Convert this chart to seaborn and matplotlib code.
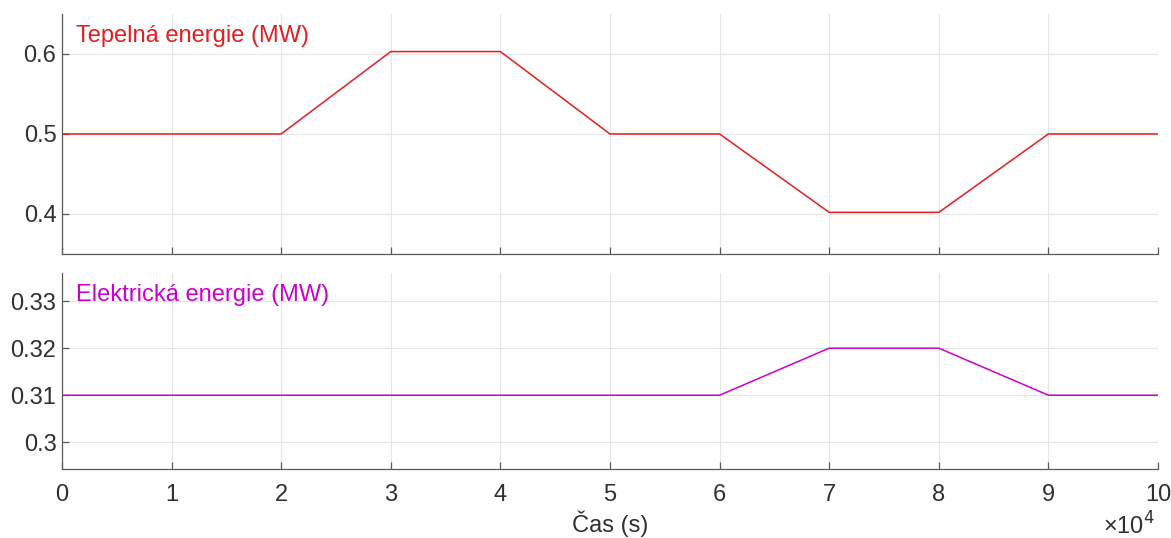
import pandas as pd
import matplotlib.pyplot as plt
import seaborn as sns
from matplotlib.ticker import FuncFormatter

cas = [0, 10000, 20000, 30000, 40000, 50000, 60000, 70000, 80000, 90000, 100000]
tepelna = [0.5, 0.5, 0.5, 0.603, 0.603, 0.5, 0.5, 0.402, 0.402, 0.5, 0.5]
elektricka = [0.31, 0.31, 0.31, 0.31, 0.31, 0.31, 0.31, 0.32, 0.32, 0.31, 0.31]

df = pd.DataFrame({'cas': cas, 'tepelna': tepelna, 'elektricka': elektricka})

sns.set_theme(style="white")
plt.rcParams['font.family'] = ['Liberation Sans', 'DejaVu Sans']
plt.rcParams.update({'font.size': 17})

fig = plt.figure(figsize=(11.71, 5.38), dpi=100)
ax1 = fig.add_axes([0.0529, 0.528, 0.936, 0.446])
ax2 = fig.add_axes([0.0529, 0.128, 0.936, 0.364])

red = '#e41e20'
mag = '#cc00cc'
txt = '#303030'

sns.lineplot(data=df, x='cas', y='tepelna', ax=ax1, color=red, linewidth=1.1)
sns.lineplot(data=df, x='cas', y='elektricka', ax=ax2, color=mag, linewidth=1.1)

ax1.set_ylim(0.35, 0.65)
ax1.set_yticks([0.4, 0.5, 0.6])
ax2.set_ylim(0.2943, 0.3359)
ax2.set_yticks([0.30, 0.31, 0.32, 0.33])
ax2.yaxis.set_major_formatter(FuncFormatter(lambda v, p: f'{v:g}'))

for ax in (ax1, ax2):
    ax.set_xlim(0, 100000)
    ax.set_xticks(range(0, 100001, 10000))
    ax.grid(True, color='#e5e5e5', linewidth=0.8)
    ax.set_axisbelow(True)
    for s in ('top', 'right'):
        ax.spines[s].set_visible(False)
    for s in ('left', 'bottom'):
        ax.spines[s].set_color('#5a5a5a')
        ax.spines[s].set_linewidth(0.9)
    ax.tick_params(direction='in', length=5, width=0.9, color='#5a5a5a',
                   labelsize=17, labelcolor=txt, left=True, bottom=True)
    ax.tick_params(axis='y', pad=4)
    ax.tick_params(axis='x', pad=11)
    ax.set_ylabel('')
    ax.set_xlabel('')

ax1.tick_params(labelbottom=False)
ax2.xaxis.set_major_formatter(FuncFormatter(lambda v, p: f'{v / 10000:g}'))
ax2.set_xlabel('Čas (s)', fontsize=17, color=txt, labelpad=3)

ax1.text(0.013, 0.91, 'Tepelná energie (MW)', transform=ax1.transAxes,
         color=red, fontsize=17, va='center', ha='left')
ax2.text(0.013, 0.89, 'Elektrická energie (MW)', transform=ax2.transAxes,
         color=mag, fontsize=17, va='center', ha='left')

fig.text(0.942, 0.007, '×10$^4$', fontsize=17, color=txt, ha='left', va='baseline')

plt.savefig('out.png', dpi=100)
